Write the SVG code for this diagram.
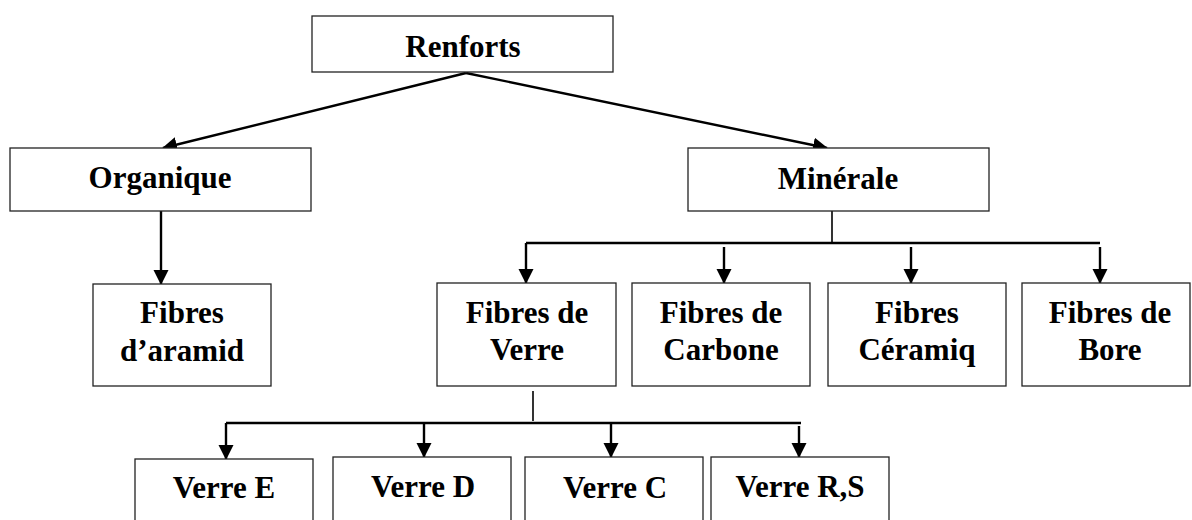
<svg xmlns="http://www.w3.org/2000/svg" width="1192" height="520" viewBox="0 0 1192 520">
<style>
.box{fill:#fff;stroke:#222;stroke-width:1.3}
.t{font-family:'Liberation Serif','Times New Roman',Tinos,'DejaVu Serif',serif;font-weight:bold;font-size:31px;fill:#000;text-anchor:middle}
.c{fill:none;stroke:#000;stroke-width:2.4}
.a{marker-end:url(#ah)}
</style>
<defs>
<marker id="ah" markerUnits="userSpaceOnUse" markerWidth="16" markerHeight="16" refX="14" refY="8" orient="auto">
<path d="M0,0.5 L15,8 L0,15.5 z" fill="#000"/>
</marker>
</defs>
<rect width="1192" height="520" fill="#fff"/>
<g id="connectors">
<path class="c a" d="M466,73 L163,148"/>
<path class="c a" d="M466,73 L827,148"/>
<path class="c a" d="M161,211 L161,284"/>
<path class="c" style="stroke-width:1.6" d="M832,211 L832,243"/>
<path class="c" d="M526,243 L1100,243"/>
<path class="c a" d="M526,243 L526,283"/>
<path class="c a" d="M724,247 L724,283"/>
<path class="c a" d="M911,247 L911,283"/>
<path class="c a" d="M1100,247 L1100,283"/>
<path class="c" style="stroke-width:1.6" d="M533,391 L533,421"/>
<path class="c" d="M226,423 L801,423"/>
<path class="c a" d="M226,423 L226,459"/>
<path class="c a" d="M424,423 L424,457"/>
<path class="c a" d="M611,423 L611,457"/>
<path class="c a" d="M799,426 L799,457"/>
</g>
<g id="renforts"><rect class="box" x="312" y="16" width="301" height="56"/><text class="t" x="463" y="57">Renforts</text></g>
<g id="organique"><rect class="box" x="10" y="148" width="301" height="63"/><text class="t" x="160" y="188">Organique</text></g>
<g id="minerale"><rect class="box" x="688" y="148" width="301" height="63"/><text class="t" x="838" y="189">Minérale</text></g>
<g id="aramid"><rect class="box" x="93" y="284" width="178" height="102"/><text class="t" x="182" y="323">Fibres</text><text class="t" x="182" y="361">d’aramid</text></g>
<g id="verre"><rect class="box" x="437" y="283" width="179" height="103"/><text class="t" x="527" y="323">Fibres de</text><text class="t" x="527" y="360">Verre</text></g>
<g id="carbone"><rect class="box" x="632" y="283" width="178" height="103"/><text class="t" x="721" y="323">Fibres de</text><text class="t" x="721" y="360">Carbone</text></g>
<g id="ceramiq"><rect class="box" x="828" y="283" width="178" height="103"/><text class="t" x="917" y="323">Fibres</text><text class="t" x="917" y="360">Céramiq</text></g>
<g id="bore"><rect class="box" x="1022" y="283" width="168" height="103"/><text class="t" x="1110" y="323">Fibres de</text><text class="t" x="1110" y="360">Bore</text></g>
<g id="verreE"><rect class="box" x="135" y="459" width="178" height="80"/><text class="t" x="224" y="498">Verre E</text></g>
<g id="verreD"><rect class="box" x="333" y="457" width="178" height="80"/><text class="t" x="423" y="497">Verre D</text></g>
<g id="verreC"><rect class="box" x="525" y="457" width="178" height="80"/><text class="t" x="615" y="498">Verre C</text></g>
<g id="verreRS"><rect class="box" x="711" y="457" width="178" height="80"/><text class="t" x="800" y="497">Verre R,S</text></g>
</svg>
